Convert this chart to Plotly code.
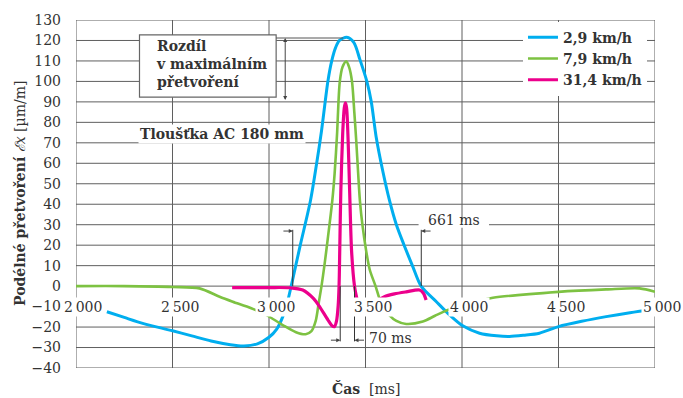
import plotly.graph_objects as go

# ---------------- data ----------------
blue_t = [2160, 2250, 2350, 2500, 2600, 2700, 2800, 2870, 2940, 3000, 3040, 3071, 3095, 3115,
          3162, 3215, 3247, 3272, 3291, 3305, 3325, 3345, 3365, 3403, 3440, 3470, 3507, 3530,
          3555, 3590, 3624, 3660, 3700, 3745, 3788, 3866, 3935, 4004, 4091, 4180, 4246, 4320,
          4401, 4500, 4620, 4747, 4870, 5000]
blue_v = [-12.5, -15.3, -18.3, -21.8, -24.3, -26.8, -28.6, -29.2, -28.2, -25, -21, -15, -8, 0,
          20, 41.8, 60, 75.8, 90, 100, 110, 116.5, 120, 121.6, 119, 111, 100, 90,
          73, 56, 42, 30, 20, 9.5, 0, -7.5, -14, -19.4, -23, -24.3, -24.6, -24,
          -23, -19.8, -17.2, -14.9, -13, -11.3]

green_t = [2000, 2250, 2500, 2640, 2744, 2812, 2908, 2985, 3071, 3140, 3190, 3220, 3242, 3258,
           3272, 3287, 3303, 3328, 3340, 3353, 3360, 3367, 3381, 3400, 3415, 3430, 3442, 3452,
           3462, 3471, 3484, 3503, 3522, 3552, 3575, 3592, 3622, 3660, 3711, 3797, 3860, 3926,
           4040, 4160, 4500, 4747, 4920, 5000]
green_v = [0, 0, -0.4, -1.1, -5.2, -7.6, -10.8, -14, -19, -22.5, -23.5, -22, -17, -8,
           0, 10, 22, 41.8, 55, 75, 90, 100, 107, 109.8, 107, 100, 85, 71,
           55, 41.8, 30, 17.5, 8, 0, -6.8, -10, -14, -17, -18.5, -17.3, -14.5, -11.7,
           -8.5, -5.7, -2.8, -1.6, -1.1, -2.8]

mag_t = [2809, 3000, 3106, 3175, 3230, 3262, 3305, 3325, 3339, 3350, 3358, 3363, 3367, 3372,
         3382, 3390, 3396, 3402, 3410, 3418, 3428, 3443, 3455, 3470, 3490, 3510, 3550, 3598,
         3650, 3711, 3780, 3800, 3814]
mag_v = [-0.7, -0.7, -0.8, -1.9, -6, -10, -16.5, -19.2, -19.8, -17, -10, 0, 20, 46,
         75, 87, 89.5, 87, 71, 46, 17, 0, -6, -12, -13.5, -12, -8, -5.2,
         -3.8, -2.8, -1.9, -3.5, -6.8]

series_names = ["2,9 km/h", "7,9 km/h", "31,4 km/h"]
series_colors = ["#00AEEF", "#7DC242", "#EC008C"]

x_ticks = [2000, 2500, 3000, 3500, 4000, 4500, 5000]
x_tick_text = ["2\u2009000", "2\u2009500", "3\u2009000", "3\u2009500", "4\u2009000", "4\u2009500", "5\u2009000"]
y_ticks = list(range(-40, 131, 10))

FONT = "DejaVu Serif"
TXT = "#333333"
GRID = "#5f5f5f"

fig = go.Figure()
for t, v, name, col, w in [(blue_t, blue_v, series_names[0], series_colors[0], 3),
                           (green_t, green_v, series_names[1], series_colors[1], 2.6),
                           (mag_t, mag_v, series_names[2], series_colors[2], 3.2)]:
    fig.add_trace(go.Scatter(x=t, y=v, mode="lines", name=name,
                             line=dict(color=col, width=w, shape="spline", smoothing=0.8)))

shapes = []
for yv in y_ticks:
    if yv == -10:
        continue
    shapes.append(dict(type="line", xref="x", yref="y", x0=2000, x1=5000, y0=yv, y1=yv,
                       line=dict(color=GRID, width=1), layer="below"))
for xv in x_ticks:
    shapes.append(dict(type="line", xref="x", yref="y", x0=xv, x1=xv, y0=-40, y1=130,
                       line=dict(color=GRID, width=1), layer="below"))
# white patch behind "661 ms"
shapes.append(dict(type="rect", xref="x", yref="y", x0=3775, x1=4140, y0=28.5, y1=31.5,
                   fillcolor="white", line=dict(width=0), layer="below"))
# annotation box
shapes.append(dict(type="rect", xref="x", yref="y", x0=2329, x1=3037, y0=92.3, y1=122.7,
                   fillcolor="white", line=dict(color="#666666", width=1.2), layer="above"))
# top horizontal dimension line
shapes.append(dict(type="line", xref="x", yref="y", x0=3037, x1=3385, y0=121.2, y1=121.2,
                   line=dict(color="#555555", width=1)))
# 661 ms vertical lines
for xv in [3123, 3789]:
    shapes.append(dict(type="line", xref="x", yref="y", x0=xv, x1=xv, y0=0, y1=27.5,
                       line=dict(color="#333333", width=1)))
# 70 ms vertical lines
for xv in [3369, 3443]:
    shapes.append(dict(type="line", xref="x", yref="y", x0=xv, x1=xv, y0=0, y1=-27,
                       line=dict(color="#333333", width=1)))

ann = []
for xv, tx in zip(x_ticks, x_tick_text):
    ann.append(dict(x=xv, y=-10, xref="x", yref="y", text=tx, showarrow=False, xshift=7,
                    bgcolor="white", borderpad=1, font=dict(family=FONT, size=14, color=TXT)))
ann.append(dict(x=2402, y=108.3, xref="x", yref="y", xanchor="left", yanchor="middle", align="left",
                text="<b>Rozdíl</b><br><b>v maximálním</b><br><b>přetvoření</b>", showarrow=False,
                font=dict(family=FONT, size=14, color=TXT)))
ann.append(dict(x=2754, y=74.3, xref="x", yref="y", text="<b>Tloušťka AC 180 mm</b>", showarrow=False,
                bgcolor="white", borderpad=1, font=dict(family=FONT, size=14, color=TXT)))
ann.append(dict(x=3961, y=32.5, xref="x", yref="y", text="661 ms", showarrow=False,
                font=dict(family=FONT, size=14, color=TXT)))
ann.append(dict(x=3629, y=-25.4, xref="x", yref="y", text="70 ms", showarrow=False,
                font=dict(family=FONT, size=14, color=TXT)))
# arrows
arrow_style = dict(showarrow=True, arrowhead=2, arrowsize=0.8, arrowwidth=1, arrowcolor="#444444",
                   text="", xref="x", yref="y", axref="x", ayref="y")
ann.append(dict(x=3123, y=26.9, ax=3067, ay=26.9, **arrow_style))
ann.append(dict(x=3789, y=26.9, ax=3845, ay=26.9, **arrow_style))
ann.append(dict(x=3369, y=-26.4, ax=3313, ay=-26.4, **arrow_style))
ann.append(dict(x=3443, y=-26.4, ax=3500, ay=-26.4, **arrow_style))
ann.append(dict(x=3084, y=121.2, ax=3084, ay=90.2, arrowside="end+start", **arrow_style))
# axis titles
ann.append(dict(x=0, y=0.5, xref="paper", yref="paper", xshift=-56, textangle=-90,
                text="<b>Podélné přetvoření</b> <i>ℰx</i> [µm/m]", showarrow=False,
                xanchor="center", yanchor="middle", font=dict(family=FONT, size=14, color=TXT)))
ann.append(dict(x=0.5, y=0, xref="paper", yref="paper", yshift=-20, yanchor="middle",
                text="<b>Čas</b>  [ms]", showarrow=False, font=dict(family=FONT, size=14, color=TXT)))

fig.update_layout(
    width=683, height=398,
    margin=dict(l=76, r=28, t=18, b=30),
    paper_bgcolor="white", plot_bgcolor="white",
    shapes=shapes, annotations=ann,
    showlegend=True,
    legend=dict(x=0.772, y=0.995, xanchor="left", yanchor="top", bgcolor="white",
                font=dict(family=FONT, size=14, color=TXT, weight="bold"),
                itemwidth=30, borderwidth=0, tracegroupgap=0),
    xaxis=dict(range=[2000, 5000], showgrid=False, zeroline=False, showline=False,
               showticklabels=False, fixedrange=True),
    yaxis=dict(range=[-40, 130], tickvals=y_ticks, showgrid=False, zeroline=False,
               showline=False, ticks="", ticklabelstandoff=14, fixedrange=True,
               tickfont=dict(family=FONT, size=14, color=TXT)),
)
fig.write_html("out.html", config={"displayModeBar": False},
               post_script="document.body.style.margin='0';document.body.style.overflow='hidden';")
